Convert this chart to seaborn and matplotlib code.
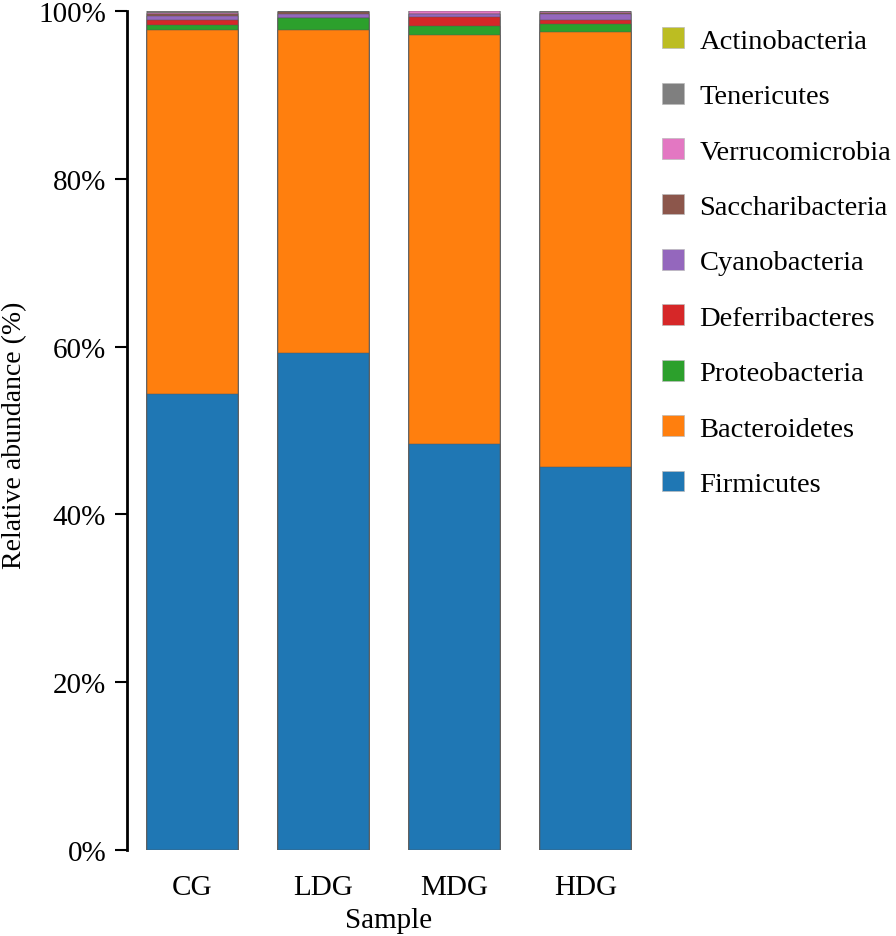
import matplotlib
matplotlib.use("Agg")
import matplotlib.pyplot as plt
import matplotlib.patches as mpatches
import seaborn as sns
import numpy as np
import pandas as pd

samples = ["CG", "LDG", "MDG", "HDG"]
phyla = ["Firmicutes", "Bacteroidetes", "Proteobacteria", "Deferribacteres",
         "Cyanobacteria", "Saccharibacteria", "Verrucomicrobia", "Tenericutes",
         "Actinobacteria"]
firmicutes = [54.3, 59.2, 48.4, 45.65]
bacteroidetes = [43.4, 38.5, 48.7, 51.85]
proteobacteria = [0.65, 1.45, 1.1, 0.9]
deferribacteres = [0.6, 0.05, 1.05, 0.5]
cyanobacteria = [0.5, 0.5, 0.35, 0.7]
saccharibacteria = [0.2, 0.15, 0.1, 0.2]
verrucomicrobia = [0.15, 0.05, 0.25, 0.05]
tenericutes = [0.15, 0.1, 0.05, 0.15]
actinobacteria = [0.05, 0.0, 0.0, 0.0]
colors = ["#1f77b4", "#ff7f0e", "#2ca02c", "#d62728", "#9467bd",
          "#8c564b", "#e377c2", "#7f7f7f", "#bcbd22"]

series = [firmicutes, bacteroidetes, proteobacteria, deferribacteres,
          cyanobacteria, saccharibacteria, verrucomicrobia, tenericutes,
          actinobacteria]
vals = np.array(series, dtype=float)
vals = vals / vals.sum(axis=0) * 100.0
cum = np.cumsum(vals, axis=0)

sns.set_style("white")
plt.rcParams['font.family'] = ['Liberation Serif', 'DejaVu Serif']
plt.rcParams['text.color'] = 'black'
plt.rcParams['axes.labelcolor'] = 'black'
plt.rcParams['xtick.color'] = 'black'
plt.rcParams['ytick.color'] = 'black'

fig = plt.figure(figsize=(8.96, 9.37), dpi=100)
ax = fig.add_axes([127/896, 86/937, 524/896, 839/937])

# draw from the top of the stack down so lower segments overlay
for i in range(len(phyla) - 1, -1, -1):
    df = pd.DataFrame({"Sample": samples, "value": cum[i] / 100.0})
    sns.barplot(data=df, x="Sample", y="value", color=colors[i],
                saturation=1, width=0.695, edgecolor="#555555",
                linewidth=0.35, ax=ax)

ax.set_xlim(-0.5, 3.5)
ax.set_ylim(0, 1.0)
ax.set_yticks([0, 0.2, 0.4, 0.6, 0.8, 1.0])
ax.set_yticklabels(["0%", "20%", "40%", "60%", "80%", "100%"])
ax.tick_params(axis="y", length=9, width=1.5, labelsize=21, pad=6, left=True,
               color="black", labelcolor="black")
ax.tick_params(axis="x", length=0, labelsize=21, pad=17, labelcolor="black")
for s in ["top", "right", "bottom"]:
    ax.spines[s].set_visible(False)
ax.spines["left"].set_linewidth(2)
ax.spines["left"].set_color("black")
ax.set_xlabel("Sample", fontsize=21, labelpad=5, color="black")
ax.set_ylabel("Relative abundance (%)", fontsize=20, color="black")
ax.yaxis.set_label_coords(-0.19, 0.495)

handles = [mpatches.Patch(facecolor=colors[i], edgecolor="#bbbbbb", linewidth=0.5,
                          label=phyla[i]) for i in range(len(phyla) - 1, -1, -1)]
fig.legend(handles=handles, loc="upper left", bbox_to_anchor=(651/896, 1 - 17/937),
           frameon=False, fontsize=20.5, handlelength=0.75, handleheight=0.75,
           handletextpad=0.55, labelspacing=1.02, borderaxespad=0,
           labelcolor="black")

fig.savefig("out.png", dpi=100)
